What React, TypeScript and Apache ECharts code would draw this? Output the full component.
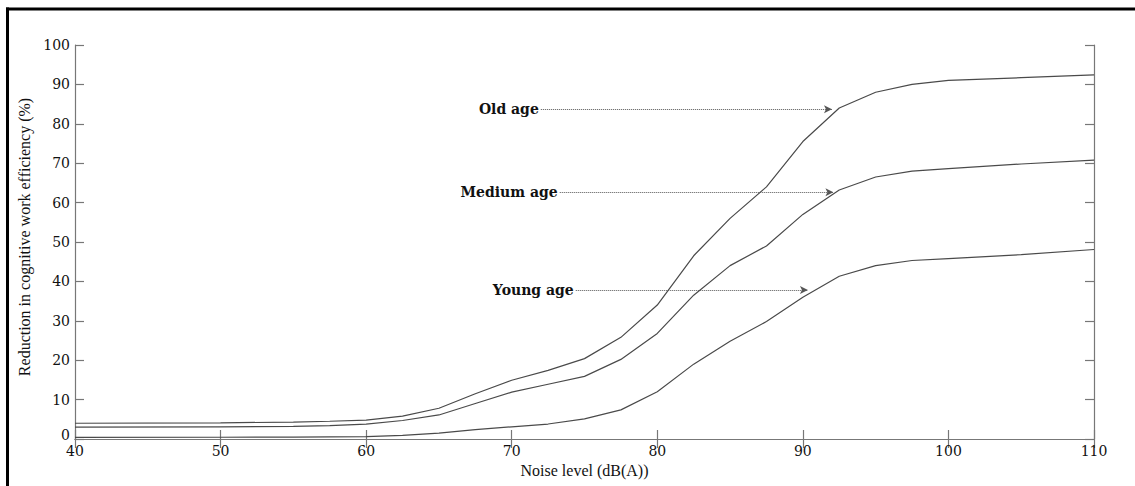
import React, { useEffect, useRef } from "react";
import * as echarts from "echarts";

// Noise level (dB(A))
const noiseLevels = [40, 50, 55, 57.5, 60, 62.5, 65, 67.5, 70, 72.5, 75, 77.5, 80, 82.5, 85, 87.5, 90, 92.5, 95, 97.5, 100, 105, 110];
// Reduction in cognitive work efficiency (%)
const oldAge = [4.0, 4.1, 4.3, 4.5, 4.8, 5.8, 7.8, 11.5, 14.9, 17.4, 20.4, 25.8, 34.0, 46.5, 56.0, 64.0, 75.5, 84.0, 88.0, 90.0, 91.0, 91.7, 92.4];
const mediumAge = [3.0, 3.1, 3.2, 3.4, 3.8, 4.7, 6.1, 9.0, 11.9, 13.9, 15.9, 20.2, 26.8, 36.5, 44.0, 49.0, 57.0, 63.2, 66.5, 68.0, 68.6, 69.8, 70.8];
const youngAge = [0.4, 0.45, 0.5, 0.55, 0.6, 0.9, 1.5, 2.4, 3.1, 3.8, 5.1, 7.4, 12.0, 19.0, 24.8, 29.8, 36.0, 41.3, 44.0, 45.3, 45.8, 46.8, 48.1];

const seriesNames = ["Old age", "Medium age", "Young age"];
const seriesValues = [oldAge, mediumAge, youngAge];

// Annotation arrows (in data units)
const annLabels = ["Old age", "Medium age", "Young age"];
const annStartX = [72.0, 73.3, 74.4];
const annEndX = [92.0, 92.1, 90.35];
const annY = [83.7, 62.6, 37.8];

const xTicks = { min: 40, max: 110, interval: 10 };
const yTicks = { min: 0, max: 100, interval: 10 };

export default function App() {
  const ref = useRef<HTMLDivElement>(null);

  useEffect(() => {
    if (!ref.current) return;
    const chart = echarts.init(ref.current, undefined, { renderer: "svg" });
    const axisColor = "#777";
    const labelFont = { fontFamily: "DejaVu Serif", fontSize: 14, color: "#111" };

    const baseAxis = {
      type: "value" as const,
      axisLine: { show: true, lineStyle: { color: axisColor, width: 1.2 } },
      axisTick: { show: true, inside: true, length: 9, lineStyle: { color: axisColor, width: 1.2 } },
      splitLine: { show: false },
    };

    const lines = seriesValues.map((vals, i) => ({
      name: seriesNames[i],
      type: "line" as const,
      data: noiseLevels.map((x, j) => [x, vals[j]]),
      showSymbol: false,
      symbol: "none",
      lineStyle: { color: "#4a4a4a", width: 1.2 },
      silent: true,
      z: 3,
    }));

    const annotation = {
      type: "line" as const,
      data: [],
      silent: true,
      markLine: {
        silent: true,
        symbol: ["none", "arrow"],
        symbolSize: [6, 8],
        lineStyle: { color: "#555", type: "dotted", width: 1 },
        data: annLabels.map((t, i) => [
          {
            coord: [annStartX[i], annY[i]],
            label: {
              show: true,
              position: "start",
              formatter: t,
              fontFamily: "DejaVu Serif",
              fontSize: 14,
              fontWeight: "bold",
              color: "#111",
              distance: 2,
            },
          },
          { coord: [annEndX[i], annY[i]] },
        ]),
      },
    };

    chart.setOption({
      animation: false,
      backgroundColor: "#fff",
      grid: { left: 75, right: 41, top: 45, bottom: 47 },
      xAxis: [
        {
          ...baseAxis,
          ...xTicks,
          position: "bottom",
          axisLabel: { ...labelFont, margin: 5 },
          name: "Noise level (dB(A))",
          nameLocation: "middle",
          nameGap: 17,
          nameTextStyle: { fontFamily: "Liberation Serif", fontSize: 16, color: "#111" },
        },
        { ...baseAxis, ...xTicks, position: "top", axisLabel: { show: false } },
      ],
      yAxis: [
        {
          ...baseAxis,
          ...yTicks,
          position: "left",
          axisLabel: {
            ...labelFont,
            margin: 5,
            formatter: (v: number) => (v === 0 ? "{z|0}" : String(v)),
            rich: { z: { ...labelFont, padding: [0, 0, 8, 0] } },
          },
          name: "Reduction in cognitive work efficiency (%)",
          nameLocation: "middle",
          nameGap: 41,
          nameTextStyle: { fontFamily: "Liberation Serif", fontSize: 16, color: "#111", padding: [0, 0, 0, 10] },
        },
        { ...baseAxis, ...yTicks, position: "right", axisLabel: { show: false } },
      ],
      graphic: [
        { type: "line", shape: { x1: 7.5, y1: 7.5, x2: 7.5, y2: 486 }, style: { stroke: "#000", lineWidth: 3 } },
        { type: "line", shape: { x1: 6, y1: 9, x2: 1135, y2: 9 }, style: { stroke: "#000", lineWidth: 3 } },
      ],
      series: [...lines, annotation],
    });

    return () => chart.dispose();
  }, []);

  return (
    <div
      ref={ref}
      style={{ position: "absolute", left: 0, top: 0, width: 1135, height: 486 }}
    />
  );
}
